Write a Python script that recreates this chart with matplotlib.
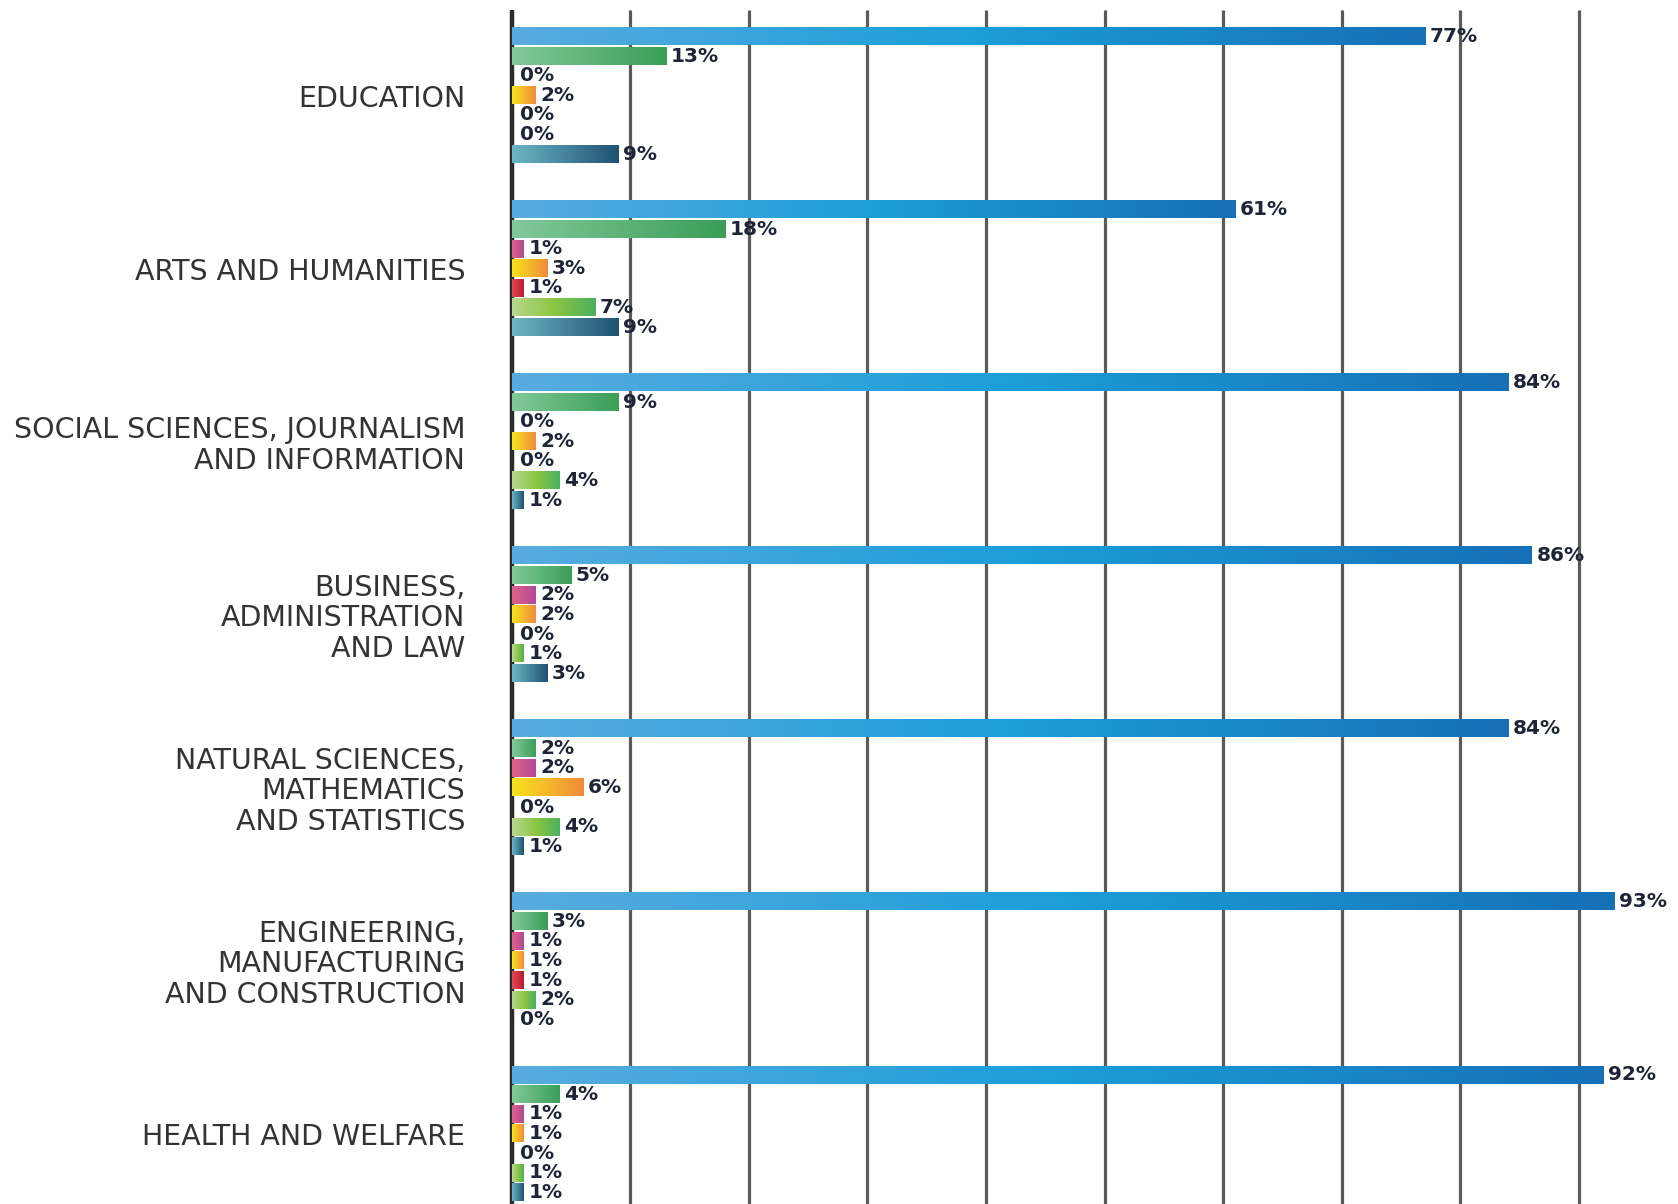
"""Share of graduates by field of education, horizontal gradient bars."""

import matplotlib

matplotlib.use("Agg")
import matplotlib.pyplot as plt
import numpy as np
from matplotlib.colors import LinearSegmentedColormap

categories = [
    "EDUCATION",
    "ARTS AND HUMANITIES",
    "SOCIAL SCIENCES, JOURNALISM\nAND INFORMATION",
    "BUSINESS,\nADMINISTRATION\nAND LAW",
    "NATURAL SCIENCES,\nMATHEMATICS\nAND STATISTICS",
    "ENGINEERING,\nMANUFACTURING\nAND CONSTRUCTION",
    "HEALTH AND WELFARE",
]

# seven series per category, top to bottom
s_blue = [77, 61, 84, 86, 84, 93, 92]
s_green = [13, 18, 9, 5, 2, 3, 4]
s_pink = [0, 1, 0, 2, 2, 1, 1]
s_yellow = [2, 3, 2, 2, 6, 1, 1]
s_red = [0, 1, 0, 0, 0, 1, 0]
s_lime = [0, 7, 4, 1, 4, 2, 1]
s_teal = [9, 9, 1, 3, 1, 0, 1]
series = [s_blue, s_green, s_pink, s_yellow, s_red, s_lime, s_teal]

# gradient stops (left -> right) for each series
gradients = [
    ["#58ace0", "#1c9ed8", "#1670b8"],
    ["#82c99a", "#3a9e58"],
    ["#e2628a", "#b04a92"],
    ["#f8e41c", "#f28a3c"],
    ["#e24a58", "#b81c30"],
    ["#b6d78e", "#8cc640", "#4cb060"],
    ["#6cb6c6", "#1e5272"],
]

grid_ticks = np.arange(0, 100, 10)

# layout in "slot" units (one bar per slot)
GROUP_STEP = 8.82
BAR_H = 0.9
PX_PER_SLOT = 19.62
PX_PER_PCT = 11.86
ZERO_PX = 511.6
FIRST_PX = 36.4
W, H = 1678, 1204

fig = plt.figure(figsize=(W / 100, H / 100), dpi=100)
ax = fig.add_axes([0, 0, 1, 1])
ax.set_axis_off()

xlim = (-ZERO_PX / PX_PER_PCT, (W - ZERO_PX) / PX_PER_PCT)
ylim = ((H - FIRST_PX) / PX_PER_SLOT, -FIRST_PX / PX_PER_SLOT)
grid_top = (10 - FIRST_PX) / PX_PER_SLOT

# grid
ax.vlines(grid_ticks[1:], grid_top, ylim[0], color="#5a5a5a", linewidth=2.3, zorder=1)
ax.vlines(0, grid_top, ylim[0], color="#2b2b2b", linewidth=3.2, zorder=1)

ramp = np.linspace(0, 1, 256).reshape(1, -1)

for g, cat in enumerate(categories):
    base = g * GROUP_STEP
    for i, vals in enumerate(series):
        v = vals[g]
        y = base + i
        if v > 0:
            cmap = LinearSegmentedColormap.from_list(f"s{i}", gradients[i])
            ax.imshow(
                ramp,
                cmap=cmap,
                extent=[0, v, y + BAR_H / 2, y - BAR_H / 2],
                aspect="auto",
                interpolation="bilinear",
                zorder=2,
            )
        ax.annotate(
            f"{v}%",
            xy=(v, y),
            xytext=(3.5 if v > 0 else 6, 0),
            textcoords="offset points",
            ha="left",
            va="center",
            fontsize=14.5,
            fontweight="bold",
            color="#1f2536",
            zorder=3,
        )
    ax.text(
        -3.9,
        base + 3.2,
        cat,
        ha="right",
        va="center",
        multialignment="right",
        fontsize=20.5,
        color="#333333",
        linespacing=1.12,
    )

ax.set_xlim(*xlim)
ax.set_ylim(*ylim)

fig.savefig("out.png", dpi=100)
plt.close(fig)
